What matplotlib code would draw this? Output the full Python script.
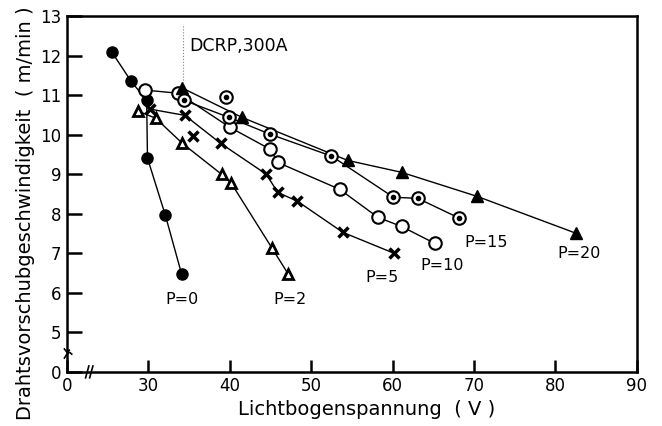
import numpy as np
import matplotlib.pyplot as plt

# Lichtbogenspannung (V) / Drahtvorschub (m/min) for each pressure P
p0_x = [25.5, 27.9, 29.8, 29.9, 32.1, 34.1]
p0_y = [12.1, 11.35, 10.87, 9.41, 7.96, 6.47]

p2_x = [28.7, 30.9, 34.2, 39.0, 40.2, 45.2, 47.2]
p2_y = [10.6, 10.42, 9.78, 9.0, 8.77, 7.13, 6.47]

p5_x = [30.2, 34.5, 35.5, 38.9, 44.5, 45.9, 48.3, 53.9, 60.2]
p5_y = [10.65, 10.49, 9.96, 9.78, 9.0, 8.54, 8.32, 7.53, 7.0]
p5_off_curve = [2]

p10_x = [29.6, 33.7, 40.0, 45.0, 45.9, 53.5, 58.2, 61.1, 65.2]
p10_y = [11.13, 11.05, 10.19, 9.63, 9.30, 8.62, 7.91, 7.68, 7.25]

p15_x = [34.4, 39.5, 39.9, 45.0, 52.5, 60.1, 63.1, 68.2]
p15_y = [10.87, 10.95, 10.44, 10.01, 9.46, 8.42, 8.39, 7.89]
p15_off_curve = [1]

p20_x = [34.2, 41.5, 54.5, 61.1, 70.4, 82.5]
p20_y = [11.18, 10.44, 9.35, 9.05, 8.44, 7.51]

labels = ["P=0", "P=2", "P=5", "P=10", "P=15", "P=20"]
label_x = [34.1, 47.4, 58.7, 66.1, 71.5, 82.9]
label_y = [5.84, 5.84, 6.39, 6.70, 7.28, 7.0]

xticks = [20, 30, 40, 50, 60, 70, 80, 90]
xticklabels = ["0", "30", "40", "50", "60", "70", "80", "90"]
yticks = [4, 5, 6, 7, 8, 9, 10, 11, 12, 13]
yticklabels = ["0", "5", "6", "7", "8", "9", "10", "11", "12", "13"]


def curve(xs, ys, skip=()):
    keep = [i for i in range(len(xs)) if i not in skip]
    return [xs[i] for i in keep], [ys[i] for i in keep]


fig = plt.figure(figsize=(6.62, 4.26), dpi=100)
ax = fig.add_axes([0.101, 0.127, 0.861, 0.835])

# curves
for xs, ys, skip in [(p0_x, p0_y, ()), (p2_x, p2_y, ()),
                     (p5_x, p5_y, p5_off_curve), (p10_x, p10_y, ()),
                     (p15_x, p15_y, p15_off_curve), (p20_x, p20_y, ())]:
    cx, cy = curve(xs, ys, skip)
    ax.plot(cx, cy, color="k", lw=1.0)

# markers
ms = 8
ax.plot(p0_x, p0_y, "o", ms=ms, mfc="k", mec="k", ls="none")
ax.plot(p2_x, p2_y, "^", ms=7.5, mfc="white", mec="k", mew=2.0, ls="none")
ax.plot(p5_x, p5_y, "x", ms=7, mec="k", mew=2.5, ls="none")
ax.plot(p10_x, p10_y, "o", ms=9, mfc="white", mec="k", mew=1.5, ls="none")
ax.plot(p15_x, p15_y, "o", ms=9, mfc="white", mec="k", mew=1.5, ls="none")
ax.plot(p15_x, p15_y, "o", ms=3, mfc="k", mec="k", ls="none")
ax.plot(p20_x, p20_y, "^", ms=ms, mfc="k", mec="k", ls="none")

for t, lx, ly in zip(labels, label_x, label_y):
    ax.text(lx, ly, t, fontsize=11.5, ha="center", va="center")

ax.text(35.0, 12.24, "DCRP,300A", fontsize=12.5, ha="left", va="center")
ax.plot([34.3, 34.3], [11.3, 12.8], color="0.5", lw=0.8, ls=":")

ax.set_xlim(20, 90)
ax.set_ylim(4, 13)
ax.set_xticks(xticks)
ax.set_xticklabels(xticklabels)
ax.set_yticks(yticks)
ax.set_yticklabels(yticklabels)
ax.tick_params(direction="in", length=11, width=1.8, labelsize=12, pad=4)
ax.tick_params(axis="x", length=9)
for s in ax.spines.values():
    s.set_linewidth(1.8)

# axis breaks
ax.plot([22.3, 22.7], [3.85, 4.15], color="k", lw=1.2, clip_on=False)
ax.plot([22.8, 23.2], [3.85, 4.15], color="k", lw=1.2, clip_on=False)
ax.plot([19.7, 20.0, 20.3, 20.6], [4.35, 4.45, 4.5, 4.45], color="k", lw=1.2, clip_on=False)
ax.plot([19.7, 20.0, 20.3], [4.58, 4.5, 4.55], color="k", lw=1.2, clip_on=False)

fig.text(0.554, 0.038, "Lichtbogenspannung  ( V )", fontsize=14,
         ha="center", va="center")
fig.text(0.038, 0.5, "Drahtsvorschubgeschwindigkeit  ( m/min )", fontsize=14,
         ha="center", va="center", rotation=90)

fig.savefig("out.png", dpi=100)
